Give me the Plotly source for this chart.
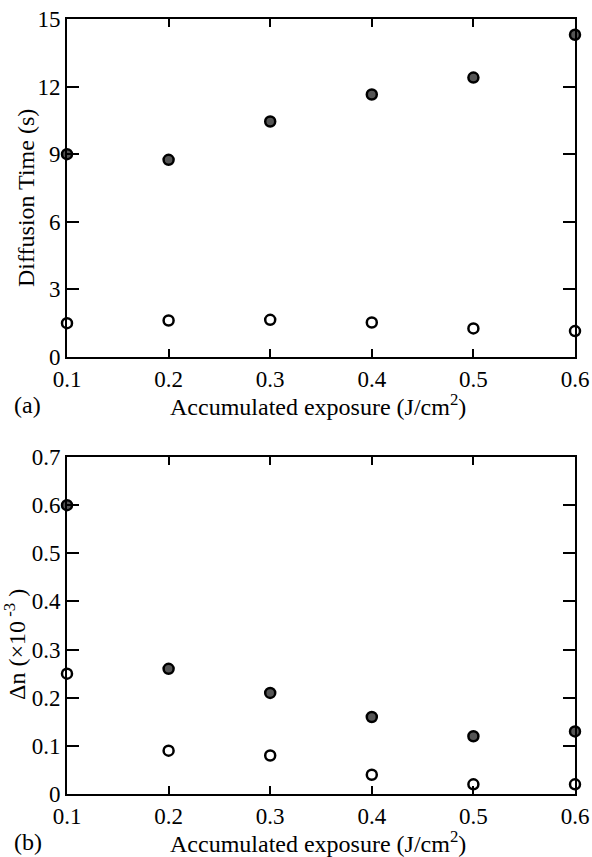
import plotly.graph_objects as go

exposure = [0.1, 0.2, 0.3, 0.4, 0.5, 0.6]
diff_filled = [9.0, 8.75, 10.45, 11.65, 12.4, 14.3]
diff_open = [1.5, 1.62, 1.65, 1.53, 1.27, 1.15]
dn_filled = [0.60, 0.26, 0.21, 0.16, 0.12, 0.13]
dn_open = [0.25, 0.09, 0.08, 0.04, 0.02, 0.02]

x_ticks = [0.1, 0.2, 0.3, 0.4, 0.5, 0.6]
x_ticklabels = ["0.1", "0.2", "0.3", "0.4", "0.5", "0.6"]
y1_ticks = [0, 3, 6, 9, 12, 15]
y1_ticklabels = ["0", "3", "6", "9", "12", "15"]
y2_ticks = [0, 0.1, 0.2, 0.3, 0.4, 0.5, 0.6, 0.7]
y2_ticklabels = ["0", "0.1", "0.2", "0.3", "0.4", "0.5", "0.6", "0.7"]

x_title = "Accumulated exposure (J/cm<sup>2</sup>)"
y1_title = "Diffusion Time (s)"
y2_title = "Δn (×10<sup> -3</sup> )"

FONT = "Liberation Serif"
FS = 23
W, H = 592, 857

filled_marker = dict(size=10, color="#555555", line=dict(color="black", width=2.5))
open_marker = dict(size=10, color="white", line=dict(color="black", width=2.5))

fig = go.Figure()
fig.add_trace(go.Scatter(x=exposure, y=diff_filled, mode="markers", marker=filled_marker,
                         xaxis="x", yaxis="y", cliponaxis=False, showlegend=False))
fig.add_trace(go.Scatter(x=exposure, y=diff_open, mode="markers", marker=open_marker,
                         xaxis="x", yaxis="y", cliponaxis=False, showlegend=False))
fig.add_trace(go.Scatter(x=exposure, y=dn_filled, mode="markers", marker=filled_marker,
                         xaxis="x2", yaxis="y2", cliponaxis=False, showlegend=False))
fig.add_trace(go.Scatter(x=exposure, y=dn_open, mode="markers", marker=open_marker,
                         xaxis="x2", yaxis="y2", cliponaxis=False, showlegend=False))

xdom = [67 / W, 575 / W]
y1dom = [(H - 357) / H, (H - 19) / H]
y2dom = [(H - 794) / H, (H - 457) / H]

tf = dict(family=FONT, size=FS, color="black")
ttf = dict(family=FONT, size=24, color="black")
common_x = dict(range=[0.1, 0.6], tickvals=x_ticks, ticktext=x_ticklabels,
                showline=True, linewidth=2, linecolor="black", mirror="ticks",
                ticks="inside", ticklen=8, tickwidth=2, tickcolor="black",
                showgrid=False, zeroline=False, automargin=False, tickfont=tf)
common_y = dict(showline=True, linewidth=2, linecolor="black", mirror="ticks",
                ticks="inside", ticklen=12, tickwidth=2, tickcolor="black",
                showgrid=False, zeroline=False, automargin=False, tickfont=tf)


def ann(text, xp, yp, angle=0, anchor="center"):
    return dict(text=text, x=xp / W, y=(H - yp) / H, xref="paper", yref="paper",
                xanchor=anchor, yanchor="middle", showarrow=False, textangle=angle,
                font=ttf)


fig.update_layout(
    width=W, height=H,
    margin=dict(l=0, r=0, t=0, b=0),
    paper_bgcolor="white", plot_bgcolor="white",
    font=dict(family=FONT, size=FS, color="black"),
    xaxis=dict(domain=xdom, anchor="y", **common_x),
    yaxis=dict(domain=y1dom, anchor="x", range=[0, 15], tickvals=y1_ticks,
               ticktext=y1_ticklabels, **common_y),
    xaxis2=dict(domain=xdom, anchor="y2", **common_x),
    yaxis2=dict(domain=y2dom, anchor="x2", range=[0, 0.7], tickvals=y2_ticks,
                ticktext=y2_ticklabels, **common_y),
    annotations=[
        ann(x_title, 318, 405),
        ann(x_title, 318, 842),
        ann(y1_title, 26, 198, angle=-90),
        ann(y2_title, 15, 645, angle=-90),
        ann("(a)", 12, 405, anchor="left"),
        ann("(b)", 12, 842, anchor="left"),
    ],
)

fig.write_html("out.html")
